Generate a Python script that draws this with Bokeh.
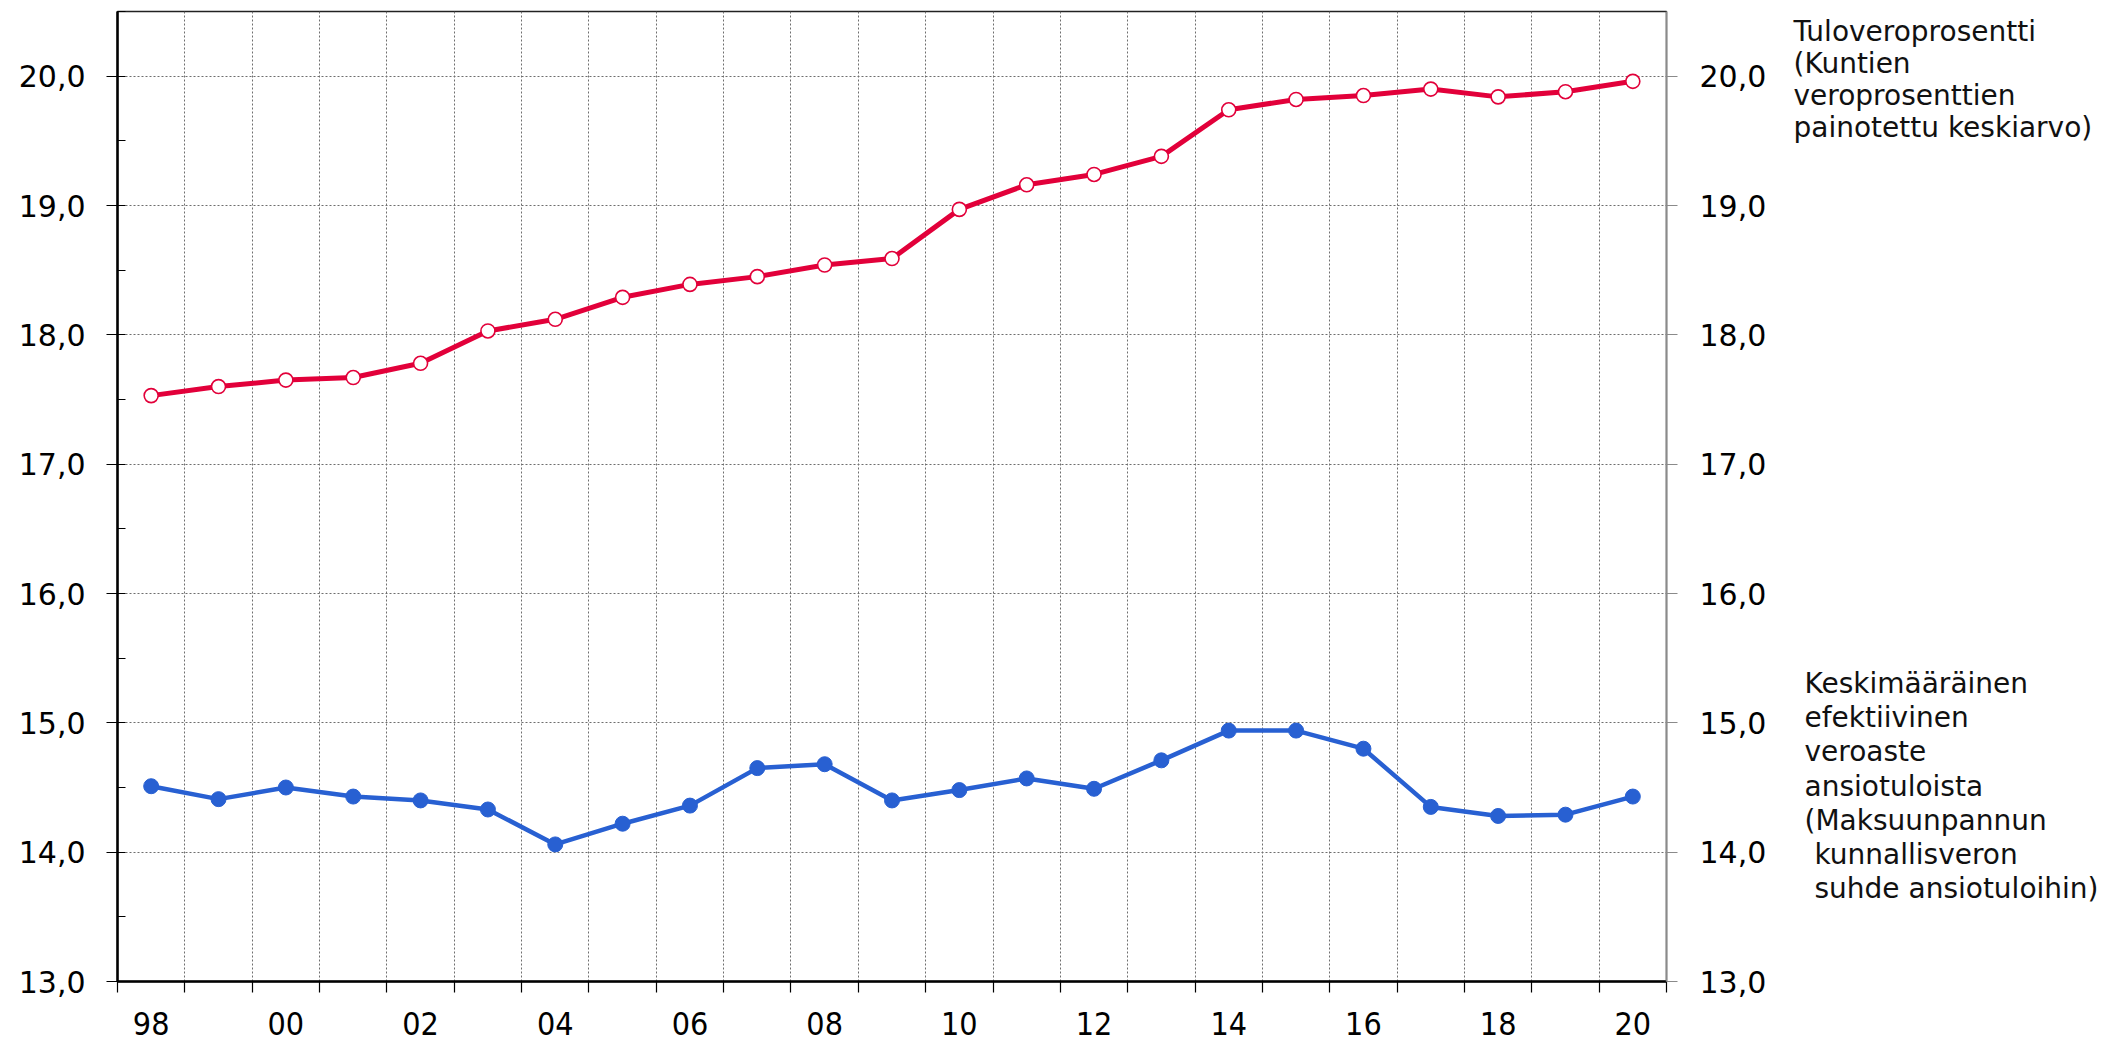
from bokeh.plotting import figure
from bokeh.layouts import row
from bokeh.models import Range1d, LinearAxis, FixedTicker, ColumnDataSource
from bokeh.core.properties import value
from bokeh.embed import file_html
from bokeh.resources import INLINE

# ---------------- data ----------------
years = list(range(1998, 2021))
tax_rate = [17.53, 17.60, 17.65, 17.67, 17.78, 18.03, 18.12, 18.29, 18.39, 18.45,
            18.54, 18.59, 18.97, 19.16, 19.24, 19.38, 19.74, 19.82, 19.85, 19.90,
            19.84, 19.88, 19.96]
effective_rate = [14.51, 14.41, 14.50, 14.43, 14.40, 14.33, 14.06, 14.22, 14.36, 14.65,
                  14.68, 14.40, 14.48, 14.57, 14.49, 14.71, 14.94, 14.94, 14.80, 14.35,
                  14.28, 14.29, 14.43]
x_label_years = list(range(1998, 2021, 2))
x_tick_labels = ["98", "00", "02", "04", "06", "08", "10", "12", "14", "16", "18", "20"]
y_ticks = [13, 14, 15, 16, 17, 18, 19, 20]
y_tick_labels = ["13,0", "14,0", "15,0", "16,0", "17,0", "18,0", "19,0", "20,0"]
tax_rate_lines = ["Tuloveroprosentti", "(Kuntien", "veroprosenttien", "painotettu keskiarvo)"]
effective_lines = ["Keskimääräinen", "efektiivinen", "veroaste", "ansiotuloista",
                   "(Maksuunpannun", "kunnallisveron", "suhde ansiotuloihin)"]
effective_indent = [0, 0, 0, 0, 0, 1, 1]

# ---------------- layout constants ----------------
W, H = 2118, 1042
PW = 1780                                   # width of the chart figure
FL, FR, FT, FB = 117, 1666, 11, 981         # frame edges in page px
X0, X1 = years[0] - 0.5, years[-1] + 0.5
Y0, Y1 = 13.0, 20.5
RED = "#E2003A"
BLUE = "#2860D2"
GRID = "#6e6e6e"

p = figure(width=PW, height=H, x_range=Range1d(X0, X1), y_range=Range1d(Y0, Y1),
           output_backend="svg", toolbar_location=None,
           min_border_left=FL, min_border_right=PW - FR,
           min_border_top=FT, min_border_bottom=H - FB,
           background_fill_color="white", border_fill_color="white")
p.outline_line_color = "#222222"
p.outline_line_width = 1.5

# x axis: labels centred on even-year bands, ticks at band boundaries
bounds = [y - 0.5 for y in years] + [years[-1] + 0.5]
xticker = FixedTicker(ticks=x_label_years, minor_ticks=bounds)
xa = p.xaxis[0]
xa.ticker = xticker
xa.axis_line_color = "black"
xa.axis_line_width = 2.5
xa.major_tick_in = 0
xa.major_tick_out = 0
xa.major_tick_line_color = None
xa.minor_tick_in = 0
xa.minor_tick_out = 11
xa.minor_tick_line_color = "black"
xa.minor_tick_line_width = 1.2
xa.major_label_overrides = {yr: s for yr, s in zip(x_label_years, x_tick_labels)}
xa.major_label_text_font = "DejaVu Sans Condensed"
xa.major_label_text_font_size = "32px"
xa.major_label_text_color = "black"
xa.major_label_standoff = 19

p.xgrid.ticker = xticker
p.xgrid.grid_line_color = None
p.xgrid.minor_grid_line_color = GRID
p.xgrid.minor_grid_line_dash = "2 2"
p.xgrid.minor_grid_line_width = 1

# left y axis
yticker = FixedTicker(ticks=y_ticks, minor_ticks=[t + 0.5 for t in y_ticks])
ya = p.yaxis[0]
ya.ticker = yticker
ya.axis_line_color = "black"
ya.axis_line_width = 2.5
ya.major_tick_out = 11
ya.major_tick_in = 8
ya.major_tick_line_color = "black"
ya.major_tick_line_width = 1.2
ya.minor_tick_in = 8
ya.minor_tick_out = 0
ya.minor_tick_line_color = "black"
ya.minor_tick_line_width = 1.2
ya.major_label_overrides = {t: s for t, s in zip(y_ticks, y_tick_labels)}
ya.major_label_text_font = "DejaVu Sans"
ya.major_label_text_font_size = "30px"
ya.major_label_text_color = "black"
ya.major_label_standoff = 21

p.ygrid.ticker = FixedTicker(ticks=y_ticks)
p.ygrid.grid_line_color = GRID
p.ygrid.grid_line_dash = "2 2"
p.ygrid.grid_line_width = 1

# right y axis
ra = LinearAxis(ticker=FixedTicker(ticks=y_ticks, minor_ticks=[]))
ra.axis_line_color = "#8a8a8a"
ra.axis_line_width = 1.5
ra.major_tick_out = 11
ra.major_tick_in = 0
ra.major_tick_line_color = "#8a8a8a"
ra.major_tick_line_width = 1.2
ra.minor_tick_line_color = None
ra.major_label_overrides = {t: s for t, s in zip(y_ticks, y_tick_labels)}
ra.major_label_text_font = "DejaVu Sans"
ra.major_label_text_font_size = "30px"
ra.major_label_text_color = "black"
ra.major_label_standoff = 22
p.add_layout(ra, "right")

# series
src = ColumnDataSource(dict(year=years, tax=tax_rate, eff=effective_rate))
p.line("year", "tax", source=src, line_color=RED, line_width=5)
p.scatter("year", "tax", source=src, size=14, fill_color="white",
          line_color=RED, line_width=1.6)
p.line("year", "eff", source=src, line_color=BLUE, line_width=4.5)
p.scatter("year", "eff", source=src, size=15, fill_color=BLUE, line_color=BLUE)

# ---------------- side panel with the series descriptions ----------------
# same vertical borders as the chart, so its frame spans page y = FT..FB and
# data y equals page y
SW = W - PW
s = figure(width=SW, height=H, x_range=Range1d(0, SW), y_range=Range1d(FB, FT),
           x_axis_type=None, y_axis_type=None,
           output_backend="svg", toolbar_location=None,
           min_border_left=0, min_border_right=0,
           min_border_top=FT, min_border_bottom=H - FB,
           background_fill_color="white", border_fill_color="white")
s.grid.visible = False
s.outline_line_color = None

ann_x, ann_y, ann_t = [], [], []
for i, t in enumerate(tax_rate_lines):
    ann_x.append(1793 - PW)
    ann_y.append(30.5 + 32.0 * i)
    ann_t.append(t)
for i, (t, ind) in enumerate(zip(effective_lines, effective_indent)):
    ann_x.append(1804 - PW + 10 * ind)
    ann_y.append(683 + 34.2 * i)
    ann_t.append(t)
s.text(x=ann_x, y=ann_y, text=ann_t, text_font=value("DejaVu Sans"),
       text_font_size=value("28px"), text_baseline="alphabetic", text_align="left",
       text_color="#111111")

layout = row(p, s, spacing=0)
open("out.html", "w").write(file_html(layout, INLINE))
